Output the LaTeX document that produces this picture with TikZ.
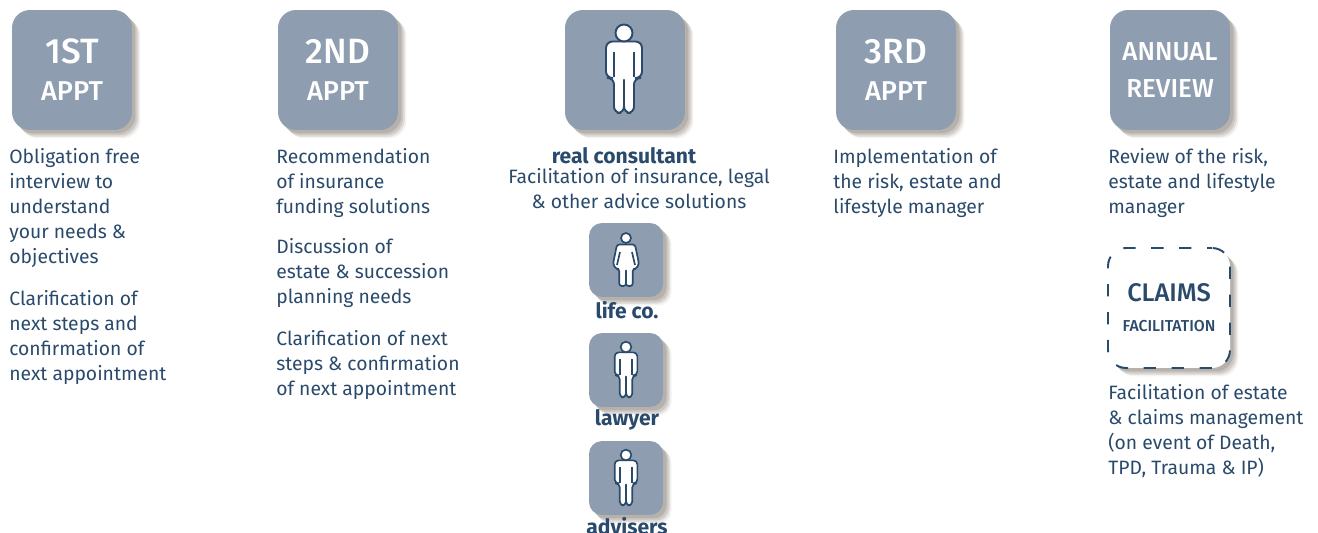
\documentclass[tikz,border=0pt]{standalone}
\usepackage{fontspec}
\usepackage{xcolor}
\setmainfont{Fira Sans}
\newfontfamily\boxfont{Fira Sans Medium}
\usetikzlibrary{shadows}
\definecolor{boxgrey}{HTML}{8E9EB0}
\definecolor{navyink}{HTML}{2A4A6B}
\definecolor{shadowgrey}{HTML}{8F857B}
\newcommand{\manfigure}[2]{
    \draw[figline,line width=#2,rounded corners=#1] (0,8.5) -- (-18,8.5) -- (-18,45) -- (-10,45) -- (-10,80) -- (0,80) -- (0,43) -- (0,80) -- (10,80) -- (10,45) -- (18,45) -- (18,8.5) -- cycle;
    \draw[figline,line width=#2] (-10,19) -- (-10,44);
    \draw[figline,line width=#2] (10,19) -- (10,44);
    \draw[figline,line width=#2] (0,0) circle (.17cm);
}
\tikzset{
    softshadow/.style={
        general shadow={shadow xshift=.17cm,shadow yshift=-.17cm,fill=shadowgrey,opacity=.1},
        general shadow={shadow xshift=.14cm,shadow yshift=-.14cm,fill=shadowgrey,opacity=.18},
        general shadow={shadow xshift=.11cm,shadow yshift=-.11cm,fill=shadowgrey,opacity=.25},
        general shadow={shadow xshift=.07cm,shadow yshift=-.07cm,fill=shadowgrey,opacity=.35}},
    apptbox/.style={softshadow,fill=boxgrey,text=white,rounded corners=.36cm,minimum size=2.4cm,inner sep=0pt,align=center},
    smallbox/.style={softshadow,fill=boxgrey,rounded corners=.26cm,minimum size=1.48cm,inner sep=0pt},
    claimsbox/.style={softshadow,fill=white,draw=navyink,line width=1.1pt,dash pattern=on 7pt off 8.9pt,dash phase=4.2pt,rounded corners=.36cm,minimum width=2.44cm,minimum height=2.4cm,inner sep=0pt,text=navyink,align=center},
    bodytext/.style={anchor=north west,inner sep=0pt,text=navyink,align=left,font=\fontsize{11}{14.2}\selectfont},
    boldlabel/.style={inner sep=0pt,text=navyink,font=\fontsize{12}{14}\selectfont\bfseries},
    figline/.style={draw=navyink,fill=white,line join=round},
    man/.pic={\manfigure{.13cm}{1.1pt}},
    smallman/.pic={\manfigure{.08cm}{.95pt}},
    woman/.pic={
        \draw[figline,line width=.95pt,rounded corners=.05cm] (0,6.5) -- (-9,6.5) -- (-13,26) -- (-10,31) -- (-6.7,31) -- (-6.7,48) -- (0,48) -- (0,31) -- (0,48) -- (6.7,48) -- (6.7,31) -- (10,31) -- (13,26) -- (9,6.5) -- cycle;
        \draw[figline,line width=.95pt] (-6,14) -- (-9,27);
        \draw[figline,line width=.95pt] (6,14) -- (9,27);
        \draw[figline,line width=.95pt] (0,0) circle (.1cm);
    }
}
\newcommand{\bigline}{\fontsize{20}{26}\boxfont}
\newcommand{\midline}{\fontsize{15.5}{18}\boxfont}

\begin{document}
\begin{tikzpicture}[x=.02cm,y=-.02cm]
    \useasboundingbox (0,0) rectangle (1318,533);

    \node[apptbox] (firstappt) at (72,70) {\bigline 1ST\\[9pt]\midline APPT};
    \node[apptbox] (secondappt) at (338,70) {\bigline 2ND\\[9pt]\midline APPT};
    \node[apptbox] (thirdappt) at (896,70) {\bigline 3RD\\[9pt]\midline APPT};
    \node[apptbox] (annualreview) at (1170,70) {\fontsize{14.8}{18}\boxfont ANNUAL\\[8.7pt]\fontsize{14.8}{18}\boxfont REVIEW};
    \node[apptbox] (consultantbox) at (625,70) {};
    \node[smallbox] (lifebox) at (626,260) {};
    \node[smallbox] (lawyerbox) at (626,370) {};
    \node[smallbox] (advisersbox) at (626,478) {};
    \node[claimsbox] (claimsbox) at (1169,308) {\fontsize{14.5}{18}\boxfont CLAIMS\\[5pt]\fontsize{9}{10}\boxfont FACILITATION};

    \pic at (624,33) {man};
    \pic at (626,238) {woman};
    \pic[scale=.63] at (626,347) {smallman};
    \pic[scale=.63] at (626,455) {smallman};

    \node[bodytext] (firsttext) at (9,148) {Obligation free\\interview to\\understand\\your needs \&\\objectives\\[10pt]Clarification of\\next steps and\\confirmation of\\next appointment};
    \node[bodytext] (secondtext) at (276,148) {Recommendation\\of insurance\\funding solutions\\[8.5pt]Discussion of\\estate \& succession\\planning needs\\[10pt]Clarification of next\\steps \& confirmation\\of next appointment};
    \node[bodytext] (thirdtext) at (833,148) {Implementation of\\the risk, estate and\\lifestyle manager};
    \node[bodytext] (reviewtext) at (1108,148) {Review of the risk,\\estate and lifestyle\\manager};
    \node[bodytext] (claimstext) at (1108,384) {Facilitation of estate\\\& claims management\\(on event of Death,\\TPD, Trauma \& IP)};
    \node[bodytext,anchor=north,align=center] (consultanttext) at (639,168) {Facilitation of insurance, legal\\\& other advice solutions};

    \node[boldlabel] (consultantlabel) at (624,156) {real consultant};
    \node[boldlabel] (lifelabel) at (627,310) {life co.};
    \node[boldlabel] (lawyerlabel) at (627,420) {lawyer};
    \node[boldlabel] (adviserslabel) at (627,526) {advisers};
\end{tikzpicture}
\end{document}
